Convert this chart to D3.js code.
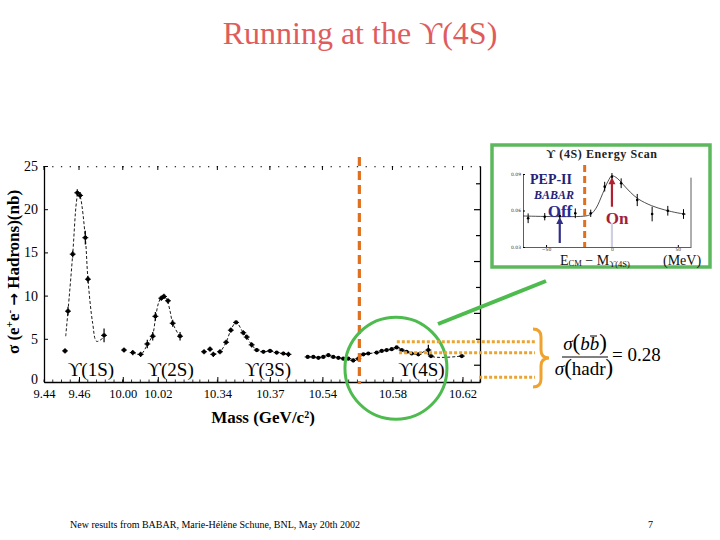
<!DOCTYPE html>
<html><head><meta charset="utf-8">
<script src="https://cdn.jsdelivr.net/npm/d3@7"></script>
<style>body{margin:0;background:#fff}svg{display:block}</style>
</head><body><svg id="c" width="720" height="540"></svg>
<script>
// ---------- data ----------
const massSegments = [[9.44, 9.485], [10.00, 10.044], [10.33, 10.39], [10.53, 10.63]];
const xTickValues = [9.44, 9.46, 10.00, 10.02, 10.34, 10.37, 10.54, 10.58, 10.62];
const yTickValues = [0, 5, 10, 15, 20, 25];
const rightTickValues = [2, 5, 8, 11, 14, 17, 20, 23];

const mass1S = [9.4520, 9.4537, 9.4564, 9.4590, 9.4606, 9.4636, 9.4651, 9.4743];
const sigma1S = [3.6, 8.2, 14.8, 21.9, 21.6, 16.7, 11.9, 5.4];
const err1S = [0.3, 0.5, 0.4, 0.4, 0.4, 0.8, 0.4, 0.8];
const fitMass1S = [9.4524, 9.4537, 9.4564, 9.4585, 9.4596, 9.4608, 9.4636, 9.4651, 9.4678, 9.4701, 9.4743];
const fitSigma1S = [5.3, 8.2, 14.8, 20.8, 22.0, 21.4, 16.7, 11.9, 6.8, 4.7, 5.2];

const mass2S = [10.0007, 10.0057, 10.0102, 10.0140, 10.0171, 10.0186, 10.0220, 10.0235, 10.0258, 10.0285, 10.0327];
const sigma2S = [3.7, 3.4, 3.2, 4.4, 5.3, 7.6, 9.7, 9.9, 9.4, 6.8, 5.3];
const err2S = [0.3, 0.3, 0.3, 0.5, 0.5, 0.5, 0.3, 0.3, 0.3, 0.4, 0.5];
const fitMass2S = [10.0057, 10.0102, 10.0140, 10.0171, 10.0186, 10.0205, 10.0228, 10.0250, 10.0270, 10.0285, 10.0327];
const fitSigma2S = [3.4, 3.2, 4.3, 5.5, 7.3, 9.2, 10.0, 9.6, 8.2, 6.8, 5.2];

const mass3S = [10.3324, 10.3358, 10.3377, 10.3415, 10.3450, 10.3477, 10.3507, 10.3548, 10.3568, 10.3596, 10.3625, 10.3663, 10.3701, 10.3739, 10.3777, 10.3806];
const sigma3S = [3.5, 3.8, 3.2, 3.5, 4.6, 6.0, 6.9, 5.7, 5.2, 4.3, 3.7, 3.5, 3.6, 3.4, 3.3, 3.2];
const err3S = [0.3, 0.3, 0.3, 0.3, 0.3, 0.3, 0.2, 0.3, 0.3, 0.3, 0.2, 0.2, 0.2, 0.2, 0.2, 0.3];

const mass4S = [10.5316, 10.5348, 10.5377, 10.5405, 10.5434, 10.5462, 10.5491, 10.5519, 10.5548, 10.5576, 10.5605, 10.5634, 10.5662, 10.5710, 10.5739, 10.5767, 10.5796, 10.5824, 10.5853, 10.5881, 10.5910, 10.5948, 10.6005, 10.6020, 10.6196];
const sigma4S = [2.9, 2.9, 2.8, 2.9, 3.1, 2.9, 2.8, 2.7, 2.7, 2.5, 2.7, 3.2, 3.3, 3.4, 3.6, 3.7, 3.8, 4.0, 3.7, 3.5, 3.3, 3.2, 3.7, 3.0, 3.0];
const err4S = [0.1, 0.1, 0.1, 0.1, 0.1, 0.1, 0.1, 0.1, 0.1, 0.2, 0.2, 0.1, 0.1, 0.1, 0.1, 0.1, 0.1, 0.1, 0.1, 0.1, 0.1, 0.1, 0.6, 0.1, 0.1];

const resonanceLabels = ["ϒ(1S)", "ϒ(2S)", "ϒ(3S)", "ϒ(4S)"];
const resonanceLabelMass = [9.4535, 10.014, 10.3556, 10.5833];

// annotation anchors (data units)
const offCutMass = 10.5611;
const circleCenter = [10.582, 1.6];
const dottedLevels = [4.66, 3.39, 0.54];
const dottedStartMass = [10.5825, 10.5838, 10.6295];

// inset: Υ(4S) energy scan
const insetMeV = [-63.6, -51, -39.6, -27.8, -16.1, -5.5, 0, 7, 19.2, 30.5, 42.4, 54.3];
const insetSigma = [0.0536, 0.0549, 0.0555, 0.0577, 0.0577, 0.0796, 0.0878, 0.0824, 0.0686, 0.0571, 0.0598, 0.0571];
const insetErr = [0.004, 0.003, 0.003, 0.004, 0.003, 0.004, 0.003, 0.004, 0.005, 0.006, 0.004, 0.004];
const insetFitMeV = [-67.5, -20, -16, -12, -7, -3, 0, 4, 8, 14, 20, 30, 40, 50, 56];
const insetFitSigma = [0.0555, 0.0555, 0.057, 0.062, 0.074, 0.084, 0.0885, 0.0865, 0.082, 0.075, 0.0695, 0.064, 0.0605, 0.058, 0.057];
const insetXTicks = [-50, 0, 50];
const insetYTicks = [0.03, 0.06, 0.09];

// ---------- drawing ----------
const SERIF = "'Liberation Serif', 'Times New Roman', Times, serif";
const svg = d3.select('#c');
const P = {left: 44, right: 480, top: 166, bottom: 382};

const spanTotal = d3.sum(massSegments, s => s[1] - s[0]);
const dom = [], rng = [];
let cum = 0;
massSegments.forEach(s => {
  dom.push(s[0], s[1]);
  rng.push(P.left + cum / spanTotal * (P.right - P.left));
  cum += s[1] - s[0];
  rng.push(P.left + cum / spanTotal * (P.right - P.left));
});
const x = d3.scaleLinear().domain(dom).range(rng);
const y = d3.scaleLinear().domain([0, 25]).range([P.bottom, P.top]);

// title
svg.append('text').attr('x', 360).attr('y', 44).attr('text-anchor', 'middle')
  .attr('font-size', 32).attr('fill', '#e05c5c').text('Running at the ϒ(4S)');

// minor ticks
const minor = [];
massSegments.forEach(s => { for (let v = s[0]; v <= s[1] + 1e-9; v += 0.005) minor.push(+v.toFixed(4)); });

// bottom axis
const gx = svg.append('g').attr('transform', `translate(0,${P.bottom})`)
  .call(d3.axisBottom(x).tickValues(xTickValues).tickFormat(d3.format('.2f')).tickSize(-5).tickSizeOuter(0).tickPadding(7));
gx.select('.domain').attr('stroke', '#000').attr('stroke-width', 1.3);
gx.selectAll('text').attr('font-size', 12.5);
gx.selectAll('.tick line').attr('stroke', '#000');
svg.append('g').selectAll('line').data(minor).join('line')
  .attr('x1', d => x(d)).attr('x2', d => x(d)).attr('y1', P.bottom).attr('y2', P.bottom - 2.5)
  .attr('stroke', '#000').attr('stroke-width', 0.8);

// top border dots + ticks
svg.append('g').selectAll('rect').data(minor).join('rect')
  .attr('x', d => x(d) - 0.6).attr('y', P.top).attr('width', 1.3).attr('height', 1.3).attr('fill', '#333');
svg.append('g').selectAll('line').data(xTickValues).join('line')
  .attr('x1', d => x(d)).attr('x2', d => x(d)).attr('y1', P.top).attr('y2', P.top + 4)
  .attr('stroke', '#000').attr('stroke-width', 1);

// left axis
const gy = svg.append('g').attr('transform', `translate(${P.left},0)`)
  .call(d3.axisLeft(y).tickValues(yTickValues).tickSize(-4).tickSizeOuter(0).tickPadding(6));
gy.select('.domain').attr('stroke', '#000').attr('stroke-width', 1.3);
gy.selectAll('text').attr('font-size', 14);
gy.selectAll('.tick').filter(d => d === 0).select('text').attr('dy', '0.1em');

// right axis
const gr = svg.append('g').attr('transform', `translate(${P.right},0)`)
  .call(d3.axisLeft(y).tickValues(rightTickValues).tickSize(4).tickSizeOuter(0).tickFormat(''));
gr.select('.domain').attr('stroke', '#000').attr('stroke-width', 1.3);
gr.selectAll('.tick line').attr('stroke-width', 1.2).attr('x2', (d, i) => i % 2 ? -4 : -6);

// y label
const yl = svg.append('text').attr('transform', 'translate(19,272) rotate(-90)')
  .attr('text-anchor', 'middle').attr('font-size', 17).attr('font-weight', 'bold');
yl.append('tspan').text('σ (e');
yl.append('tspan').attr('baseline-shift', 'super').attr('font-size', 11).text('+');
yl.append('tspan').text('e');
yl.append('tspan').attr('baseline-shift', 'super').attr('font-size', 11).text('-');
yl.append('tspan').text(' ');
yl.append('tspan').attr('class', 'arrowGlyph').attr('font-size', 15).text('→');
yl.append('tspan').text(' Hadrons)(nb)');

// x label
const xl = svg.append('text').attr('x', 263).attr('y', 423).attr('text-anchor', 'middle')
  .attr('font-size', 17).attr('font-weight', 'bold');
xl.append('tspan').text('Mass (GeV/c');
xl.append('tspan').attr('baseline-shift', 'super').attr('font-size', 10).text('2');
xl.append('tspan').text(')');

// resonance labels
svg.append('g').selectAll('text').data(resonanceLabels).join('text')
  .attr('x', (d, i) => x(resonanceLabelMass[i])).attr('y', 376).attr('font-size', 19)
  .text(d => d);

// fits & lines
const line = (xs, ys) => d3.line().x((d, i) => x(xs[i])).y((d, i) => y(ys[i])).curve(d3.curveCatmullRom)(xs);
const fits = [[fitMass1S, fitSigma1S], [fitMass2S, fitSigma2S], [mass3S.slice(2), sigma3S.slice(2)], [mass4S, sigma4S]];
svg.append('g').selectAll('path').data(fits).join('path')
  .attr('d', d => line(d[0], d[1])).attr('fill', 'none').attr('stroke', '#000')
  .attr('stroke-width', 0.9).attr('stroke-dasharray', '3,2');

// points
const series = [[mass1S, sigma1S, err1S], [mass2S, sigma2S, err2S], [mass3S, sigma3S, err3S], [mass4S, sigma4S, err4S]];
const pts = [];
series.forEach(s => s[0].forEach((m, i) => pts.push({m, v: s[1][i], e: s[2][i]})));
const gp = svg.append('g');
gp.selectAll('line.ev').data(pts).join('line').attr('class', 'ev')
  .attr('x1', d => x(d.m)).attr('x2', d => x(d.m)).attr('y1', d => y(d.v - d.e)).attr('y2', d => y(d.v + d.e))
  .attr('stroke', '#000').attr('stroke-width', 1.2);
gp.selectAll('line.eh').data(pts).join('line').attr('class', 'eh')
  .attr('x1', d => x(d.m) - 3).attr('x2', d => x(d.m) + 3).attr('y1', d => y(d.v)).attr('y2', d => y(d.v))
  .attr('stroke', '#000').attr('stroke-width', 1);
gp.selectAll('circle').data(pts).join('circle')
  .attr('cx', d => x(d.m)).attr('cy', d => y(d.v)).attr('r', 2.1).attr('fill', '#000');

// orange cut line
svg.append('line').attr('x1', x(offCutMass)).attr('x2', x(offCutMass)).attr('y1', 157).attr('y2', 384)
  .attr('stroke', '#e0701e').attr('stroke-width', 3.2).attr('stroke-dasharray', '9,5');

// green circle
svg.append('circle').attr('cx', x(circleCenter[0])).attr('cy', y(circleCenter[1])).attr('r', 51)
  .attr('fill', 'none').attr('stroke', '#4dbb4d').attr('stroke-width', 3);
svg.append('line').attr('x1', 438).attr('y1', 324).attr('x2', 546).attr('y2', 281)
  .attr('stroke', '#4dbb4d').attr('stroke-width', 4);

// dotted levels
svg.append('g').selectAll('line').data(dottedLevels).join('line')
  .attr('x1', (d, i) => x(dottedStartMass[i])).attr('x2', 535)
  .attr('y1', d => y(d)).attr('y2', d => y(d))
  .attr('stroke', '#eaa432').attr('stroke-width', 3).attr('stroke-dasharray', '3,2');

// brace
svg.append('path')
  .attr('d', 'M533,329 Q541,329 541,337 L541,350 Q541,358 549,358 Q541,358 541,366 L541,379 Q541,387 533,387')
  .attr('fill', 'none').attr('stroke', '#f0a22e').attr('stroke-width', 3);

// formula
const fz = 19;
const num = svg.append('text').attr('x', 585).attr('y', 350).attr('text-anchor', 'middle').attr('font-size', fz);
num.append('tspan').attr('font-style', 'italic').text('σ');
num.append('tspan').attr('font-size', 23).text('(');
num.append('tspan').attr('font-style', 'italic').text('bb');
num.append('tspan').attr('font-size', 23).text(')');
svg.append('line').attr('x1', 590).attr('x2', 597).attr('y1', 336).attr('y2', 336).attr('stroke', '#000').attr('stroke-width', 1);
svg.append('line').attr('x1', 562).attr('x2', 608).attr('y1', 357).attr('y2', 357).attr('stroke', '#000').attr('stroke-width', 1);
const den = svg.append('text').attr('x', 584).attr('y', 375).attr('text-anchor', 'middle').attr('font-size', fz);
den.append('tspan').attr('font-style', 'italic').text('σ');
den.append('tspan').attr('font-size', 23).text('(');
den.append('tspan').text('hadr');
den.append('tspan').attr('font-size', 23).text(')');
svg.append('text').attr('x', 612).attr('y', 361).attr('font-size', fz).text('= 0.28');

// ---------- inset ----------
svg.append('rect').attr('x', 492).attr('y', 145).attr('width', 218).attr('height', 122)
  .attr('fill', '#fff').attr('stroke', '#5cb85c').attr('stroke-width', 3.5);
const xi = d3.scaleLinear().domain([-67.5, 60]).range([523, 691]);
const yi = d3.scaleLinear().domain([0.03, 0.09]).range([247, 174]);
svg.append('text').attr('x', 602).attr('y', 158).attr('text-anchor', 'middle').attr('font-size', 12)
  .attr('letter-spacing', 0.6).attr('font-weight', 'bold').attr('fill', '#222').text('ϒ (4S)  Energy Scan');
const gix = svg.append('g').attr('transform', 'translate(0,247)')
  .call(d3.axisBottom(xi).tickValues(insetXTicks).tickSize(-2).tickSizeOuter(0).tickPadding(1).tickFormat(d3.format('d')));
const giy = svg.append('g').attr('transform', 'translate(523,0)')
  .call(d3.axisLeft(yi).tickValues(insetYTicks).tickSize(-2).tickSizeOuter(0).tickPadding(2).tickFormat(d3.format('.2f')));
svg.append('line').attr('x1', 691).attr('x2', 691).attr('y1', yi(0.087)).attr('y2', 247).attr('stroke', '#333').attr('stroke-width', 0.8);
[gix, giy].forEach(g => g.select('.domain').attr('stroke', '#333').attr('stroke-width', 0.8));

svg.append('path').attr('d', d3.line().x((d, i) => xi(insetFitMeV[i])).y((d, i) => yi(insetFitSigma[i])).curve(d3.curveCatmullRom)(insetFitMeV))
  .attr('fill', 'none').attr('stroke', '#222').attr('stroke-width', 0.8);
const ip = insetMeV.map((m, i) => ({m, v: insetSigma[i], e: insetErr[i]}));
svg.append('g').selectAll('line').data(ip).join('line')
  .attr('x1', d => xi(d.m)).attr('x2', d => xi(d.m)).attr('y1', d => yi(d.v - d.e)).attr('y2', d => yi(d.v + d.e))
  .attr('stroke', '#000').attr('stroke-width', 1);
svg.append('g').selectAll('circle').data(ip).join('circle')
  .attr('cx', d => xi(d.m)).attr('cy', d => yi(d.v)).attr('r', 1.3).attr('fill', '#000');

svg.append('line').attr('x1', xi(-20.7)).attr('x2', xi(-20.7)).attr('y1', 165).attr('y2', 247)
  .attr('stroke', '#e0701e').attr('stroke-width', 3).attr('stroke-dasharray', '7,4');

svg.append('text').attr('x', 551).attr('y', 184).attr('text-anchor', 'middle').attr('font-size', 14)
  .attr('font-weight', 'bold').attr('fill', '#22227a').text('PEP-II');
svg.append('text').attr('x', 554).attr('y', 199).attr('text-anchor', 'middle').attr('font-size', 12)
  .attr('font-weight', 'bold').attr('font-style', 'italic').attr('fill', '#22227a').text('BABAR');
svg.append('text').attr('x', 560).attr('y', 217).attr('text-anchor', 'middle').attr('font-size', 17)
  .attr('font-weight', 'bold').attr('fill', '#2a2a90').text('Off');
svg.append('text').attr('x', 617).attr('y', 224).attr('text-anchor', 'middle').attr('font-size', 17)
  .attr('font-weight', 'bold').attr('fill', '#a41e3c').text('On');

// arrows
const arrow = (xv, y1, y2, col) => {
  svg.append('line').attr('x1', xv).attr('x2', xv).attr('y1', y1).attr('y2', y2 + 5).attr('stroke', col).attr('stroke-width', 2.2);
  svg.append('path').attr('d', `M${xv - 3.5},${y2 + 7} L${xv},${y2} L${xv + 3.5},${y2 + 7} Z`).attr('fill', col);
};
arrow(xi(-39.6), yi(0.0333), yi(0.0547), '#303088');
arrow(xi(0), yi(0.0631), yi(0.0873), '#b02030');
svg.append('line').attr('x1', xi(0)).attr('x2', xi(0)).attr('y1', yi(0.0497)).attr('y2', yi(0.03))
  .attr('stroke', '#cfcfe4').attr('stroke-width', 2.2);

const xlab = svg.append('text').attr('x', 560).attr('y', 265).attr('font-size', 14).attr('fill', '#111');
xlab.append('tspan').text('E');
xlab.append('tspan').attr('font-size', 8.5).attr('dy', 1).text('CM');
xlab.append('tspan').attr('dy', -1).text(' − M');
xlab.append('tspan').attr('font-size', 8.5).attr('dy', 2).text('ϒ(4S)');
svg.append('text').attr('x', 663).attr('y', 265).attr('font-size', 14).attr('fill', '#111').text('(MeV)');

// footer
svg.append('text').attr('x', 70).attr('y', 528).attr('font-size', 10)
  .text('New results from BABAR, Marie-Hélène Schune, BNL, May 20th 2002');
svg.append('text').attr('x', 648).attr('y', 528).attr('font-size', 10).text('7');

// fonts
svg.selectAll('text').style('font-family', SERIF);
svg.selectAll('.arrowGlyph').style('font-family', "'DejaVu Sans'");
[gix, giy].forEach(g => g.selectAll('text').attr('font-size', 4.5).attr('fill', '#333').style('font-family', "'DejaVu Sans'"));
</script></body></html>
